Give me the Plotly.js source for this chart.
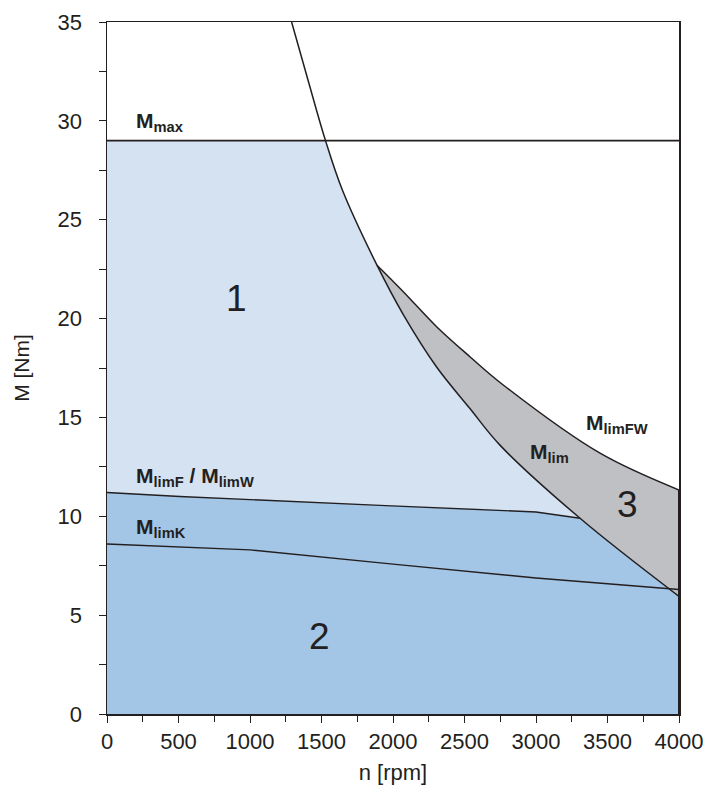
<!DOCTYPE html>
<html>
<head>
<meta charset="utf-8">
<script src="https://cdn.plot.ly/plotly-3.0.1.min.js"></script>
<style>
html,body{margin:0;padding:0;background:#fff;}
#chart{width:707px;height:792px;}
</style>
</head>
<body>
<div id="chart"></div>
<script>
// ---- data ----
const M_MAX = 29;                 // Mmax [Nm]
const nMlim  = [1291, 1408, 1528, 1646, 1888, 2072, 2305, 2538, 2748, 3308, 4000];
const Mlim   = [35.0, 32.0, 29.0, 26.5, 22.7, 20.2, 17.55, 15.45, 13.6, 9.9, 5.95];
const nMlimFW = [1888, 2072, 2305, 2538, 2771, 3448, 4000];
const MlimFW  = [22.7, 21.36, 19.59, 18.07, 16.64, 13.19, 11.33];
const nMlimF = [0, 510, 1909, 2748, 3000, 3308];
const MlimF  = [11.2, 11.0, 10.55, 10.32, 10.22, 9.9];
const nMlimK = [0, 1000, 2000, 3000, 4000];
const MlimK  = [8.6, 8.3, 7.58, 6.88, 6.3];
const nRange = [0, 4000];
const xTickVals = [0, 500, 1000, 1500, 2000, 2500, 3000, 3500, 4000];
const yTickVals = [0, 5, 10, 15, 20, 25, 30, 35];

// ---- colours ----
const cLight = '#d4e2f2', cDark = '#a3c5e6', cGray = '#bfc0c4', cLine = '#231f20';

const nMin = nRange[0], nMax = nRange[1];

function mlimFrom(nFrom) {
  const x = [], y = [];
  nMlim.forEach((n, i) => { if (n >= nFrom) { x.push(n); y.push(Mlim[i]); } });
  return {x, y};
}
const iCross = Mlim.indexOf(M_MAX);
const nCross = nMlim[iCross];                       // Mlim meets Mmax
const nJoinF = nMlimF[nMlimF.length - 1];           // MlimF meets Mlim
const MJoinF = MlimF[MlimF.length - 1];
const nJoinFW = nMlimFW[0];                         // MlimFW leaves Mlim

// small overlap (about one pixel) so adjacent fills show no seam
const OV = 8;
const slopeAt = (i) => (Mlim[i + 1] - Mlim[i]) / (nMlim[i + 1] - nMlim[i]);
const iJoin = nMlim.findIndex(n => n >= nJoinF);

const SM = 1.0;
const fill = (x, y, c, shape, mode) => ({x, y, type: 'scatter', mode: 'lines', fill: mode || 'tozeroy',
  fillcolor: c, line: {width: 0, shape: shape || 'linear', smoothing: SM}, hoverinfo: 'skip', showlegend: false});
const line = (x, y, w, shape) => ({x, y, type: 'scatter', mode: 'lines',
  line: {color: cLine, width: w || 1.4, shape: shape || 'linear', smoothing: SM},
  hoverinfo: 'skip', showlegend: false});

const m1 = mlimFrom(nCross), m2 = mlimFrom(nJoinF), m3 = mlimFrom(nJoinFW);

const r1aX = [nMin, nCross, nCross + OV];
const r1aY = [M_MAX, M_MAX, M_MAX + slopeAt(iCross) * OV * 1.5];
const r2aX = nMlimF.concat([nJoinF + OV]);
const r2aY = MlimF.concat([MJoinF + slopeAt(iJoin) * OV * 1.5]);

const data = [
  // region 1
  fill(r1aX, r1aY, cLight),
  fill(m1.x, m1.y, cLight, 'spline'),
  // region 2
  fill(r2aX, r2aY, cDark),
  fill(m2.x, m2.y, cDark, 'spline'),
  // region 3 (between Mlim and MlimFW)
  {x: m3.x, y: m3.y, type: 'scatter', mode: 'lines', line: {width: 0, shape: 'spline', smoothing: SM},
   hoverinfo: 'skip', showlegend: false},
  fill(nMlimFW, MlimFW, cGray, 'spline', 'tonexty'),
  // curves
  line(nRange, [M_MAX, M_MAX], 1.6),
  line(nMlim, Mlim, 1.5, 'spline'),
  line(nMlimFW, MlimFW, 1.5, 'spline'),
  line(nMlimF, MlimF, 1.4),
  line(nMlimK, MlimK, 1.4),
  line([nMax, nMax], [0, MlimFW[MlimFW.length - 1]], 2)
];

const FONT = '"Liberation Sans", Arial, Helvetica, sans-serif';
const lab = (x, y, text) => ({x, y, xref: 'x', yref: 'y', text, showarrow: false,
  xanchor: 'left', yanchor: 'middle', font: {family: FONT, size: 21, color: cLine}});
const big = (x, y, text) => ({x, y, xref: 'x', yref: 'y', text, showarrow: false,
  xanchor: 'center', yanchor: 'middle', font: {family: FONT, size: 37, color: cLine}});

const layout = {
  width: 707, height: 792,
  margin: {l: 107, r: 28, t: 22, b: 78, pad: 0},
  paper_bgcolor: '#ffffff', plot_bgcolor: '#ffffff',
  font: {family: FONT, color: cLine},
  showlegend: false,
  xaxis: {
    range: nRange, tickvals: xTickVals, ticks: 'outside', ticklen: 7, tickwidth: 1, tickcolor: cLine,
    minor: {dtick: 250, ticks: 'outside', ticklen: 6, tickwidth: 1, tickcolor: cLine},
    showline: true, linecolor: cLine, linewidth: 1.5, mirror: true, showgrid: false, zeroline: false,
    tickfont: {family: FONT, size: 22, color: cLine}, automargin: false,
    title: {text: 'n [rpm]', font: {family: FONT, size: 22, color: cLine}, standoff: 11}
  },
  yaxis: {
    range: [0, 35], tickvals: yTickVals, ticks: 'outside', ticklen: 7, tickwidth: 1, tickcolor: cLine,
    minor: {dtick: 2.5, ticks: 'outside', ticklen: 7, tickwidth: 1, tickcolor: cLine},
    showline: true, linecolor: cLine, linewidth: 1.5, mirror: true, showgrid: false, zeroline: false,
    tickfont: {family: FONT, size: 22, color: cLine}, ticklabelstandoff: 12, automargin: false,
    title: {text: 'M [Nm]', font: {family: FONT, size: 21, color: cLine}, standoff: 22}
  },
  annotations: [
    lab(190, 29.95, '<b>M<sub>max</sub></b>'),
    lab(190, 12.0, '<b>M<sub>limF</sub> / M<sub>limW</sub></b>'),
    lab(190, 9.4, '<b>M<sub>limK</sub></b>'),
    lab(2943, 13.2, '<b>M<sub>lim</sub></b>'),
    lab(3333, 14.65, '<b>M<sub>limFW</sub></b>'),
    big(909, 21.0, '1'),
    big(1483, 3.92, '2'),
    big(3640, 10.6, '3')
  ]
};

Plotly.newPlot('chart', data, layout, {displayModeBar: false, staticPlot: true});
</script>
</body>
</html>
